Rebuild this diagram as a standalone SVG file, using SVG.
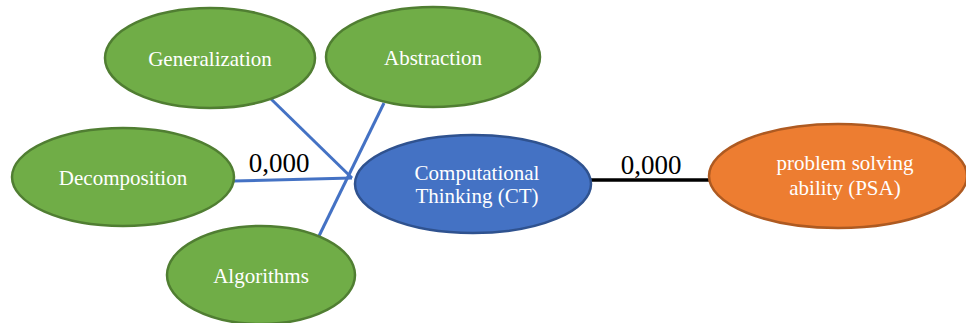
<svg xmlns="http://www.w3.org/2000/svg" width="966" height="323" viewBox="0 0 966 323">
<style>
.green{fill:#70AD47;stroke:#507E32;stroke-width:2.5}
.blue{fill:#4472C4;stroke:#2F528F;stroke-width:2.5}
.orange{fill:#ED7D31;stroke:#AE5A21;stroke-width:2.5}
.t{font-family:'Liberation Serif','DejaVu Serif',serif;font-size:21px;fill:#ffffff;text-anchor:middle}
.lbl{font-family:'Liberation Serif','DejaVu Serif',serif;font-size:27px;fill:#000000;text-anchor:middle}
.bl{stroke:#4472C4;stroke-width:3;fill:none}
.bk{stroke:#000000;stroke-width:3.5;fill:none}
</style>
<rect width="966" height="323" fill="#ffffff"/>
<g id="connectors">
<line class="bl" x1="270" y1="98" x2="352" y2="178"/>
<line class="bl" x1="384" y1="103" x2="318" y2="238"/>
<line class="bl" x1="233" y1="181" x2="352" y2="178"/>
<line class="bk" x1="591" y1="180" x2="712" y2="180"/>
<text class="lbl" x="279" y="172">0,000</text>
<text class="lbl" x="651" y="174">0,000</text>
</g>
<g id="generalization">
<ellipse class="green" cx="210" cy="58" rx="105" ry="50"/>
<text class="t" x="210" y="66">Generalization</text>
</g>
<g id="abstraction">
<ellipse class="green" cx="433" cy="57" rx="107" ry="50"/>
<text class="t" x="433" y="65">Abstraction</text>
</g>
<g id="decomposition">
<ellipse class="green" cx="123" cy="177" rx="111" ry="49"/>
<text class="t" x="123" y="185">Decomposition</text>
</g>
<g id="algorithms">
<ellipse class="green" cx="261" cy="275" rx="94" ry="49"/>
<text class="t" x="261" y="283">Algorithms</text>
</g>
<g id="ct">
<ellipse class="blue" cx="473" cy="184" rx="118" ry="49"/>
<text class="t" x="477" y="180">Computational</text>
<text class="t" x="477" y="203">Thinking (CT)</text>
</g>
<g id="psa">
<ellipse class="orange" cx="838" cy="176" rx="129" ry="52"/>
<text class="t" x="845" y="170">problem solving</text>
<text class="t" x="845" y="195">ability (PSA)</text>
</g>
</svg>
